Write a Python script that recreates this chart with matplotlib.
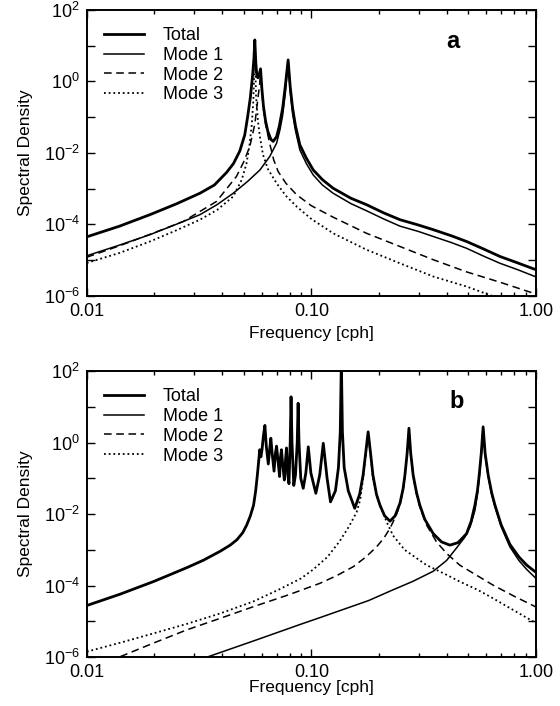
import numpy as np
import matplotlib
matplotlib.use("Agg")
import matplotlib.pyplot as plt
from matplotlib.ticker import LogLocator, NullFormatter, NullLocator

plt.rcParams['font.family'] = ['Liberation Sans', 'DejaVu Sans']
plt.rcParams['mathtext.default'] = 'regular'

# values: frequency [cph] and log10(spectral density)

# ---- panel a ----
fa_total = [0.010, 0.014, 0.0191, 0.025, 0.0319, 0.037, 0.0419, 0.045, 0.048, 0.0505,
            0.052, 0.0535, 0.0548, 0.0555, 0.0560, 0.0566, 0.0572, 0.0578, 0.0586, 0.0594,
            0.0602, 0.0612, 0.0625, 0.064, 0.066, 0.0676, 0.070, 0.072, 0.0745, 0.0765,
            0.0788, 0.0805, 0.0825, 0.085, 0.0889, 0.095, 0.102, 0.112, 0.125, 0.15,
            0.176, 0.21, 0.248, 0.30, 0.349, 0.42, 0.491, 0.58, 0.692, 0.83, 1.0]
la_total = [-4.35, -4.05, -3.73, -3.43, -3.13, -2.90, -2.55, -2.30, -1.95, -1.50,
            -1.00, -0.45, 0.20, 0.65, 1.16, 0.50, 0.15, 0.10, 0.20, 0.35,
            -0.20, -0.70, -1.10, -1.40, -1.62, -1.68, -1.55, -1.25, -0.75, -0.15,
            0.60, -0.15, -0.75, -1.25, -1.78, -2.15, -2.48, -2.75, -2.99, -3.27,
            -3.45, -3.68, -3.87, -4.02, -4.15, -4.32, -4.48, -4.68, -4.90, -5.08, -5.27]

fa_mode1 = [0.010, 0.014, 0.0191, 0.025, 0.0319, 0.038, 0.0449, 0.052, 0.059, 0.0653,
            0.070, 0.0725, 0.0745, 0.0765, 0.0788, 0.0805, 0.0825, 0.085, 0.0889, 0.095,
            0.102, 0.112, 0.125, 0.15, 0.176, 0.21, 0.248, 0.30, 0.349, 0.42,
            0.491, 0.58, 0.692, 0.83, 1.0]
la_mode1 = [-4.88, -4.58, -4.29, -4.00, -3.73, -3.45, -3.13, -2.80, -2.48, -2.10,
            -1.73, -1.35, -0.95, -0.35, 0.55, -0.30, -0.90, -1.38, -1.92, -2.30,
            -2.62, -2.90, -3.13, -3.42, -3.62, -3.85, -4.05, -4.20, -4.34, -4.51,
            -4.67, -4.88, -5.09, -5.27, -5.47]

fa_mode2 = [0.010, 0.014, 0.0191, 0.0269, 0.0378, 0.0464, 0.050, 0.0532, 0.056, 0.0575,
            0.0588, 0.0594, 0.0601, 0.061, 0.0625, 0.0653, 0.068, 0.0711, 0.077, 0.0859,
            0.10, 0.125, 0.176, 0.248, 0.349, 0.491, 0.692, 1.0]
la_mode2 = [-4.92, -4.60, -4.28, -3.92, -3.36, -2.66, -2.25, -1.82, -1.20, -0.60,
            -0.10, 0.25, -0.20, -0.70, -1.20, -1.75, -2.20, -2.52, -2.85, -3.17,
            -3.48, -3.80, -4.25, -4.62, -4.99, -5.33, -5.62, -5.95]

fa_mode3 = [0.010, 0.014, 0.0191, 0.025, 0.0319, 0.038, 0.0449, 0.049, 0.0514, 0.053,
            0.0543, 0.0552, 0.0560, 0.0567, 0.0578, 0.059, 0.0609, 0.064, 0.070, 0.077,
            0.0859, 0.10, 0.125, 0.176, 0.248, 0.349, 0.491, 0.65, 1.0]
la_mode3 = [-5.08, -4.80, -4.48, -4.17, -3.87, -3.60, -3.22, -2.75, -2.30, -1.80,
            -1.20, -0.50, 0.95, -0.40, -1.10, -1.55, -2.05, -2.45, -2.85, -3.20,
            -3.50, -3.85, -4.25, -4.71, -5.09, -5.46, -5.74, -6.02, -6.40]

# ---- panel b ----
fb_total = [0.010, 0.0141, 0.0198, 0.0279, 0.0331, 0.0393, 0.0435, 0.0466, 0.0495, 0.0516,
            0.0535, 0.0553, 0.0565, 0.0575, 0.0583, 0.0589, 0.0596, 0.0603, 0.0612, 0.0621,
            0.0630, 0.0643, 0.0652, 0.0660, 0.0669, 0.0682, 0.0692, 0.0700, 0.0710, 0.0722,
            0.0729, 0.0736, 0.0745, 0.0758, 0.0767, 0.0775, 0.0785, 0.0795, 0.0805, 0.0812,
            0.0820, 0.0835, 0.0850, 0.0865, 0.0873, 0.0881, 0.0897, 0.092, 0.0945, 0.0969,
            0.0995, 0.1047, 0.109, 0.113, 0.1175, 0.1217, 0.128, 0.132, 0.1345, 0.136,
            0.1375, 0.140, 0.146, 0.156, 0.164, 0.170, 0.1745, 0.179, 0.1835, 0.188,
            0.195, 0.202, 0.212, 0.224, 0.236, 0.248, 0.256, 0.261, 0.267, 0.272,
            0.277, 0.284, 0.294, 0.304, 0.32, 0.349, 0.38, 0.414, 0.45, 0.491,
            0.515, 0.535, 0.549, 0.559, 0.571, 0.582, 0.594, 0.613, 0.635, 0.657,
            0.70, 0.766, 0.84, 0.91, 1.0]
lb_total = [-4.56, -4.24, -3.89, -3.50, -3.29, -3.04, -2.87, -2.72, -2.52, -2.30,
            -2.05, -1.75, -1.35, -0.90, -0.50, -0.20, -0.40, -0.20, 0.20, 0.48,
            -0.10, -0.60, -0.20, 0.12, -0.30, -0.80, -0.30, -0.10, -0.50, -0.95,
            -0.40, -0.20, -0.60, -1.05, -0.50, -0.15, -0.90, -1.15, 0.00, 1.28,
            0.00, -1.20, -0.90, 0.00, 1.10, 0.00, -1.00, -1.28, -0.85, -0.12,
            -0.85, -1.42, -0.90, -0.02, -1.00, -1.66, -1.35, -0.70, 0.30, 2.30,
            0.30, -0.70, -1.35, -1.84, -1.45, -0.91, -0.30, 0.30, -0.30, -0.91,
            -1.45, -1.75, -2.05, -2.20, -2.05, -1.70, -1.30, -0.91, -0.30, 0.40,
            -0.30, -0.91, -1.40, -1.75, -2.15, -2.55, -2.78, -2.87, -2.80, -2.55,
            -2.20, -1.75, -1.35, -0.91, -0.30, 0.44, -0.30, -0.91, -1.40, -1.75,
            -2.30, -2.85, -3.20, -3.43, -3.63]

fb_mode1 = [0.033, 0.0553, 0.0724, 0.09, 0.109, 0.143, 0.18, 0.231, 0.284,
            0.349, 0.40, 0.443, 0.482, 0.51, 0.535, 0.549, 0.559, 0.571, 0.582,
            0.594, 0.613, 0.635, 0.657, 0.70, 0.766, 0.84, 0.91, 1.0]
lb_mode1 = [-6.04, -5.55, -5.29, -5.08, -4.90, -4.64, -4.42, -4.12, -3.88,
            -3.60, -3.30, -2.95, -2.65, -2.35, -1.90, -1.45, -1.00, -0.35, 0.44,
            -0.35, -0.95, -1.45, -1.80, -2.35, -2.92, -3.30, -3.55, -3.80]

fb_mode2 = [0.0141, 0.020, 0.0279, 0.040, 0.0553, 0.080, 0.109, 0.13, 0.154, 0.175,
            0.195, 0.21, 0.224, 0.238, 0.248, 0.256, 0.261, 0.266, 0.272, 0.278,
            0.284, 0.294, 0.304, 0.326, 0.361, 0.40, 0.458, 0.55, 0.645, 0.80, 1.0]
lb_mode2 = [-5.99, -5.60, -5.24, -4.90, -4.59, -4.25, -3.94, -3.72, -3.47, -3.20,
            -2.92, -2.68, -2.40, -2.05, -1.75, -1.35, -0.95, -0.40, 0.35, -0.40,
            -0.95, -1.45, -1.80, -2.31, -2.78, -3.10, -3.43, -3.73, -3.99, -4.30, -4.60]

fb_mode3 = [0.010, 0.0141, 0.0198, 0.028, 0.0393, 0.055, 0.0724, 0.09, 0.102, 0.118,
            0.134, 0.147, 0.159, 0.165, 0.170, 0.1745, 0.179, 0.1835, 0.188, 0.195,
            0.202, 0.216, 0.231, 0.26, 0.326, 0.40, 0.458, 0.55, 0.645, 0.80, 1.0]
lb_mode3 = [-5.85, -5.60, -5.34, -5.07, -4.78, -4.45, -4.10, -3.80, -3.55, -3.20,
            -2.75, -2.35, -1.95, -1.60, -1.00, -0.35, 0.28, -0.35, -1.00, -1.45,
            -1.75, -2.21, -2.60, -3.00, -3.43, -3.70, -3.89, -4.12, -4.36, -4.70, -5.05]

ytick_vals = [1e-6, 1e-5, 1e-4, 1e-3, 1e-2, 1e-1, 1e0, 1e1, 1e2]
ytick_text = ['10$^{-6}$', '', '10$^{-4}$', '', '10$^{-2}$', '', '10$^{0}$', '', '10$^{2}$']
xtick_vals = [0.01, 0.1, 1.0]
xtick_text = ['0.01', '0.10', '1.00']
labels = ['Total', 'Mode 1', 'Mode 2', 'Mode 3']


def draw_panel(ax, curves, tag, tag_xy, xlab_y):
    styles = [dict(color='black', lw=2.0, ls='-'),
              dict(color='black', lw=1.1, ls='-'),
              dict(color='black', lw=1.1, ls=(0, (5, 3))),
              dict(color='black', lw=1.3, ls=(0, (1, 1.6)))]
    for (f, lg), lab, st in zip(curves, labels, styles):
        ax.plot(f, np.power(10.0, lg), label=lab, **st)
    ax.set_xscale('log')
    ax.set_yscale('log')
    ax.set_xlim(0.01, 1.0)
    ax.set_ylim(1e-6, 1e2)
    ax.set_yticks(ytick_vals)
    ax.set_yticklabels(ytick_text)
    ax.yaxis.set_minor_locator(NullLocator())
    ax.set_xticks(xtick_vals)
    ax.set_xticklabels(xtick_text)
    ax.xaxis.set_minor_locator(LogLocator(base=10, subs=range(2, 10)))
    ax.xaxis.set_minor_formatter(NullFormatter())
    ax.tick_params(which='both', direction='in', top=True, right=True, width=1.0)
    ax.tick_params(which='major', length=6, labelsize=13, pad=5)
    ax.tick_params(which='minor', length=3)
    for sp in ax.spines.values():
        sp.set_linewidth(1.4)
    ax.set_xlabel('Frequency [cph]', fontsize=12.5)
    ax.set_ylabel('Spectral Density', fontsize=12.5)
    ax.yaxis.set_label_coords(-0.119, 0.5)
    ax.xaxis.set_label_coords(0.5, xlab_y)
    ax.text(tag_xy[0], tag_xy[1], tag, transform=ax.transAxes, fontsize=17,
            fontweight='bold', ha='center', va='center')
    ax.legend(loc='upper left', frameon=False, fontsize=13, handlelength=2.2,
              handletextpad=1.05, labelspacing=0.15, borderaxespad=0.4,
              bbox_to_anchor=(0.006, 0.99))


fig = plt.figure(figsize=(5.6, 7.06), dpi=100)
ax_a = fig.add_axes([0.155, 0.581, 0.802, 0.405])
ax_b = fig.add_axes([0.155, 0.0694, 0.802, 0.405])

draw_panel(ax_a, [(fa_total, la_total), (fa_mode1, la_mode1),
                  (fa_mode2, la_mode2), (fa_mode3, la_mode3)], 'a', (0.815, 0.888), -0.105)
draw_panel(ax_b, [(fb_total, lb_total), (fb_mode1, lb_mode1),
                  (fb_mode2, lb_mode2), (fb_mode3, lb_mode3)], 'b', (0.824, 0.892), -0.080)

fig.savefig('out.png', dpi=100)
